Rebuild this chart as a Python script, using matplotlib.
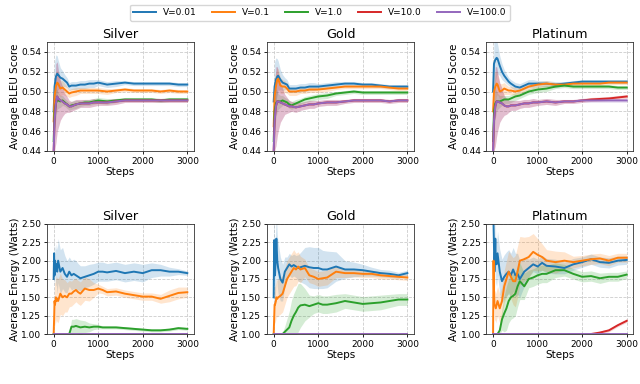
import matplotlib
matplotlib.use("Agg")
import matplotlib.pyplot as plt
import numpy as np

# ---------------- data ----------------
labels = ["V=0.01", "V=0.1", "V=1.0", "V=10.0", "V=100.0"]
colors = ["#1f77b4", "#ff7f0e", "#2ca02c", "#d62728", "#9467bd"]
tiers = ["Silver", "Gold", "Platinum"]

steps_top = [0, 20, 50, 80, 100, 150, 200, 250, 300, 350, 400, 500, 600, 700, 800,
             900, 1000, 1200, 1400, 1600, 1800, 2000, 2200, 2400, 2600, 2800, 3000]

# BLEU — Silver
bleu_silver_v001 = [0.480, 0.505, 0.515, 0.518, 0.517, 0.514, 0.513, 0.511, 0.509, 0.505, 0.506, 0.506, 0.507, 0.507,
                    0.508, 0.508, 0.509, 0.507, 0.508, 0.509, 0.508, 0.508, 0.508, 0.508, 0.508, 0.507, 0.507]
bleu_silver_v01 = [0.470, 0.495, 0.505, 0.509, 0.508, 0.503, 0.504, 0.502, 0.500, 0.498, 0.499, 0.500, 0.501, 0.501,
                   0.501, 0.501, 0.501, 0.500, 0.501, 0.502, 0.501, 0.501, 0.501, 0.500, 0.501, 0.500, 0.500]
bleu_silver_v1 = [0.450, 0.480, 0.488, 0.492, 0.491, 0.490, 0.491, 0.489, 0.487, 0.485, 0.486, 0.487, 0.488, 0.489,
                  0.489, 0.490, 0.491, 0.490, 0.491, 0.492, 0.492, 0.492, 0.492, 0.491, 0.492, 0.492, 0.492]
bleu_silver_v10 = [0.440, 0.470, 0.488, 0.495, 0.493, 0.491, 0.490, 0.488, 0.487, 0.485, 0.485, 0.487, 0.488, 0.488,
                   0.488, 0.489, 0.489, 0.489, 0.490, 0.491, 0.491, 0.491, 0.491, 0.491, 0.491, 0.491, 0.491]
bleu_silver_v100 = [0.440, 0.470, 0.488, 0.495, 0.493, 0.491, 0.490, 0.488, 0.487, 0.485, 0.485, 0.487, 0.488, 0.488,
                    0.488, 0.489, 0.489, 0.489, 0.490, 0.491, 0.491, 0.491, 0.491, 0.491, 0.491, 0.491, 0.491]

# BLEU — Gold
bleu_gold_v001 = [0.490, 0.505, 0.512, 0.515, 0.516, 0.512, 0.509, 0.508, 0.507, 0.503, 0.503, 0.503, 0.504, 0.504,
                  0.505, 0.505, 0.505, 0.506, 0.507, 0.508, 0.508, 0.507, 0.507, 0.506, 0.505, 0.505, 0.505]
bleu_gold_v01 = [0.465, 0.495, 0.505, 0.512, 0.513, 0.506, 0.505, 0.505, 0.503, 0.500, 0.500, 0.500, 0.501, 0.501,
                 0.502, 0.502, 0.502, 0.503, 0.504, 0.505, 0.505, 0.505, 0.505, 0.505, 0.504, 0.503, 0.503]
bleu_gold_v1 = [0.450, 0.480, 0.488, 0.490, 0.490, 0.490, 0.491, 0.490, 0.489, 0.487, 0.486, 0.488, 0.490, 0.492,
                0.493, 0.494, 0.495, 0.496, 0.498, 0.499, 0.500, 0.499, 0.499, 0.499, 0.499, 0.499, 0.499]
bleu_gold_v10 = [0.440, 0.470, 0.485, 0.490, 0.490, 0.489, 0.488, 0.487, 0.486, 0.485, 0.485, 0.484, 0.485, 0.486,
                 0.487, 0.487, 0.488, 0.489, 0.489, 0.490, 0.491, 0.491, 0.491, 0.491, 0.490, 0.491, 0.491]
bleu_gold_v100 = [0.440, 0.470, 0.485, 0.490, 0.490, 0.489, 0.488, 0.487, 0.486, 0.485, 0.485, 0.484, 0.485, 0.486,
                  0.487, 0.487, 0.488, 0.489, 0.489, 0.490, 0.491, 0.491, 0.491, 0.491, 0.490, 0.491, 0.491]

# BLEU — Platinum
bleu_plat_v001 = [0.500, 0.528, 0.532, 0.534, 0.533, 0.526, 0.520, 0.516, 0.513, 0.510, 0.508, 0.505, 0.504, 0.506,
                  0.508, 0.508, 0.508, 0.508, 0.507, 0.508, 0.509, 0.510, 0.510, 0.510, 0.510, 0.510, 0.510]
bleu_plat_v01 = [0.480, 0.500, 0.505, 0.508, 0.507, 0.500, 0.501, 0.503, 0.502, 0.501, 0.501, 0.500, 0.501, 0.503,
                 0.505, 0.506, 0.507, 0.508, 0.507, 0.507, 0.508, 0.508, 0.508, 0.508, 0.509, 0.509, 0.509]
bleu_plat_v1 = [0.450, 0.480, 0.488, 0.490, 0.490, 0.490, 0.491, 0.492, 0.492, 0.492, 0.493, 0.495, 0.496, 0.498,
                0.500, 0.501, 0.502, 0.503, 0.505, 0.506, 0.505, 0.505, 0.505, 0.505, 0.505, 0.504, 0.504]
bleu_plat_v10 = [0.440, 0.470, 0.485, 0.490, 0.490, 0.489, 0.488, 0.486, 0.485, 0.485, 0.486, 0.486, 0.487, 0.488,
                 0.488, 0.489, 0.489, 0.490, 0.489, 0.490, 0.490, 0.491, 0.492, 0.4925, 0.493, 0.494, 0.495]
bleu_plat_v100 = [0.440, 0.470, 0.485, 0.490, 0.490, 0.489, 0.488, 0.486, 0.485, 0.485, 0.486, 0.486, 0.487, 0.488,
                  0.488, 0.489, 0.489, 0.490, 0.489, 0.490, 0.490, 0.491, 0.491, 0.491, 0.491, 0.491, 0.491]

# BLEU band half-widths (shared across tiers)
bleu_band_v001 = [0.010, 0.025, 0.022, 0.018, 0.015, 0.010, 0.008, 0.006, 0.005, 0.004, 0.004, 0.004, 0.004, 0.004,
                  0.004, 0.004, 0.003, 0.003, 0.003, 0.002, 0.002, 0.002, 0.002, 0.002, 0.002, 0.002, 0.002]
bleu_band_v01 = [0.020, 0.020, 0.015, 0.012, 0.010, 0.008, 0.007, 0.006, 0.005, 0.004, 0.004, 0.004, 0.003, 0.003,
                 0.003, 0.003, 0.003, 0.003, 0.002, 0.002, 0.002, 0.002, 0.002, 0.002, 0.002, 0.002, 0.002]
bleu_band_v1 = [0.030, 0.020, 0.015, 0.010, 0.008, 0.006, 0.005, 0.004, 0.004, 0.004, 0.004, 0.004, 0.003, 0.003,
                0.003, 0.003, 0.003, 0.003, 0.002, 0.002, 0.002, 0.002, 0.002, 0.002, 0.002, 0.002, 0.002]
bleu_band_v10 = [0.010, 0.030, 0.040, 0.035, 0.030, 0.020, 0.015, 0.010, 0.008, 0.006, 0.005, 0.005, 0.004, 0.004,
                 0.004, 0.004, 0.003, 0.003, 0.003, 0.002, 0.002, 0.002, 0.002, 0.002, 0.002, 0.002, 0.002]
bleu_band_v100 = [0.010, 0.030, 0.040, 0.035, 0.030, 0.020, 0.015, 0.010, 0.008, 0.006, 0.005, 0.005, 0.004, 0.004,
                  0.004, 0.004, 0.003, 0.003, 0.003, 0.002, 0.002, 0.002, 0.002, 0.002, 0.002, 0.002, 0.002]

steps_bot = [0, 10, 20, 30, 50, 60, 80, 100, 150, 200, 250, 300, 350, 400, 450, 500, 550, 600, 700, 800,
             900, 1000, 1100, 1200, 1400, 1600, 1800, 2000, 2200, 2400, 2600, 2800, 3000]

# Energy — Silver
en_silver_v001 = [1.75, 2.10, 1.80, 2.00, 1.90, 1.95, 1.85, 2.00, 1.85, 1.90, 1.82, 1.78, 1.85, 1.80, 1.82, 1.80, 1.78,
                  1.76, 1.78, 1.80, 1.82, 1.85, 1.85, 1.84, 1.86, 1.83, 1.85, 1.83, 1.87, 1.87, 1.85, 1.85, 1.83]
en_silver_v01 = [1.00, 1.20, 1.45, 1.40, 1.50, 1.45, 1.48, 1.45, 1.55, 1.50, 1.52, 1.50, 1.55, 1.55, 1.58, 1.60, 1.57,
                 1.55, 1.62, 1.60, 1.60, 1.62, 1.60, 1.57, 1.58, 1.55, 1.53, 1.51, 1.51, 1.48, 1.52, 1.56, 1.57]
en_silver_v1 = [1.00, 1.00, 1.00, 1.00, 1.00, 1.00, 1.00, 1.00, 1.00, 1.00, 1.00, 1.00, 1.00, 1.10, 1.10, 1.11, 1.10,
                1.09, 1.10, 1.09, 1.10, 1.10, 1.09, 1.09, 1.09, 1.08, 1.07, 1.06, 1.05, 1.05, 1.06, 1.08, 1.07]
en_silver_v10 = [1.00] * 33
en_silver_v100 = [1.00] * 33

en_silver_band_v001 = [0.15, 0.15, 0.15, 0.20, 0.25, 0.28, 0.30, 0.30, 0.30, 0.28, 0.25, 0.22, 0.20, 0.20, 0.20, 0.20,
                       0.18, 0.17, 0.15, 0.15, 0.14, 0.13, 0.13, 0.12, 0.12, 0.12, 0.12, 0.12, 0.10, 0.08, 0.06, 0.04, 0.03]
en_silver_band_v01 = [0.00, 0.15, 0.25, 0.30, 0.30, 0.30, 0.30, 0.30, 0.28, 0.25, 0.22, 0.20, 0.18, 0.17, 0.17, 0.16,
                      0.16, 0.16, 0.16, 0.15, 0.10, 0.06, 0.05, 0.05, 0.05, 0.05, 0.05, 0.05, 0.05, 0.06, 0.08, 0.08, 0.07]
en_silver_band_v1 = [0.00, 0.00, 0.00, 0.00, 0.00, 0.00, 0.00, 0.00, 0.00, 0.00, 0.00, 0.00, 0.00, 0.10, 0.10, 0.10, 0.10,
                     0.10, 0.08, 0.06, 0.04, 0.03, 0.02, 0.02, 0.02, 0.02, 0.02, 0.02, 0.02, 0.02, 0.02, 0.02, 0.02]
en_silver_band_v10 = [0.00] * 33
en_silver_band_v100 = [0.00] * 33

# Energy — Gold
en_gold_v001 = [1.50, 2.28, 1.90, 1.80, 2.10, 2.30, 2.00, 1.90, 1.75, 1.70, 1.85, 1.90, 1.95, 1.92, 1.94, 1.92, 1.90,
                1.91, 1.93, 1.91, 1.90, 1.90, 1.88, 1.88, 1.92, 1.88, 1.88, 1.87, 1.85, 1.83, 1.82, 1.80, 1.83]
en_gold_v01 = [1.00, 1.20, 1.40, 1.40, 1.45, 1.50, 1.48, 1.50, 1.52, 1.55, 1.65, 1.75, 1.80, 1.85, 1.90, 1.88, 1.92,
               1.88, 1.90, 1.80, 1.78, 1.75, 1.76, 1.77, 1.85, 1.83, 1.83, 1.82, 1.82, 1.80, 1.79, 1.78, 1.77]
en_gold_v1 = [1.00, 1.00, 1.00, 1.00, 1.00, 1.00, 1.00, 1.00, 1.00, 1.00, 1.03, 1.06, 1.09, 1.18, 1.25, 1.30, 1.36,
              1.39, 1.40, 1.38, 1.40, 1.42, 1.40, 1.40, 1.42, 1.45, 1.43, 1.41, 1.42, 1.43, 1.45, 1.47, 1.47]
en_gold_v10 = [1.00] * 33
en_gold_v100 = [1.00] * 33

en_gold_band_v001 = [0.30, 0.40, 0.40, 0.40, 0.40, 0.35, 0.35, 0.35, 0.30, 0.25, 0.20, 0.15, 0.15, 0.15, 0.15, 0.15,
                     0.18, 0.20, 0.25, 0.28, 0.28, 0.28, 0.26, 0.25, 0.20, 0.12, 0.10, 0.08, 0.06, 0.05, 0.05, 0.04, 0.04]
en_gold_band_v01 = [0.00, 0.20, 0.25, 0.25, 0.25, 0.25, 0.25, 0.25, 0.25, 0.25, 0.25, 0.25, 0.25, 0.25, 0.25, 0.22,
                    0.20, 0.18, 0.12, 0.10, 0.10, 0.10, 0.10, 0.10, 0.08, 0.06, 0.05, 0.05, 0.05, 0.05, 0.04, 0.04, 0.04]
en_gold_band_v1 = [0.00, 0.00, 0.00, 0.00, 0.00, 0.00, 0.00, 0.00, 0.00, 0.02, 0.08, 0.15, 0.22, 0.28, 0.30, 0.32,
                   0.33, 0.30, 0.22, 0.15, 0.12, 0.12, 0.12, 0.12, 0.12, 0.10, 0.10, 0.10, 0.10, 0.10, 0.09, 0.08, 0.08]
en_gold_band_v10 = [0.00] * 33
en_gold_band_v100 = [0.00] * 33

# Energy — Platinum
en_plat_v001 = [2.60, 2.50, 2.20, 1.85, 2.30, 2.00, 1.95, 2.10, 1.85, 1.72, 1.78, 1.82, 1.85, 1.80, 1.88, 1.80, 1.82,
                1.75, 1.85, 1.90, 1.95, 1.92, 1.97, 1.93, 1.92, 1.90, 1.95, 1.98, 2.02, 1.98, 1.97, 2.00, 2.01]
en_plat_v01 = [1.00, 2.00, 1.60, 1.40, 1.38, 1.35, 1.40, 1.45, 1.35, 1.45, 1.65, 1.75, 1.85, 1.78, 1.72, 1.72, 1.85,
               2.00, 2.02, 2.05, 2.12, 2.08, 2.05, 2.00, 1.98, 2.00, 1.98, 2.00, 2.02, 2.03, 2.00, 2.04, 2.04]
en_plat_v1 = [1.00, 1.00, 1.00, 1.00, 1.00, 1.00, 1.00, 1.00, 1.05, 1.20, 1.28, 1.35, 1.45, 1.50, 1.52, 1.55, 1.65,
              1.72, 1.65, 1.75, 1.77, 1.80, 1.82, 1.82, 1.87, 1.87, 1.82, 1.78, 1.79, 1.76, 1.78, 1.78, 1.81]
en_plat_v10 = [1.00, 1.00, 1.00, 1.00, 1.00, 1.00, 1.00, 1.00, 1.00, 1.00, 1.00, 1.00, 1.00, 1.00, 1.00, 1.00, 1.00,
               1.00, 1.00, 1.00, 1.00, 1.00, 1.00, 1.00, 1.00, 1.00, 1.00, 1.00, 1.00, 1.02, 1.05, 1.12, 1.18]
en_plat_v100 = [1.00] * 33

en_plat_band_v001 = [0.30, 0.30, 0.30, 0.30, 0.30, 0.30, 0.30, 0.30, 0.30, 0.30, 0.30, 0.30, 0.30, 0.30, 0.30, 0.30,
                     0.28, 0.25, 0.20, 0.12, 0.10, 0.10, 0.10, 0.10, 0.10, 0.08, 0.08, 0.07, 0.07, 0.07, 0.07, 0.06, 0.06]
en_plat_band_v01 = [0.00, 0.20, 0.20, 0.20, 0.20, 0.20, 0.20, 0.20, 0.20, 0.20, 0.22, 0.25, 0.28, 0.30, 0.32, 0.35,
                    0.35, 0.33, 0.30, 0.28, 0.25, 0.22, 0.18, 0.15, 0.15, 0.12, 0.08, 0.07, 0.07, 0.07, 0.07, 0.06, 0.06]
en_plat_band_v1 = [0.00, 0.00, 0.00, 0.00, 0.00, 0.00, 0.00, 0.00, 0.05, 0.15, 0.25, 0.30, 0.30, 0.30, 0.30, 0.30,
                   0.28, 0.25, 0.18, 0.12, 0.12, 0.12, 0.12, 0.12, 0.10, 0.08, 0.07, 0.07, 0.07, 0.07, 0.06, 0.06, 0.05]
en_plat_band_v10 = [0.00, 0.00, 0.00, 0.00, 0.00, 0.00, 0.00, 0.00, 0.00, 0.00, 0.00, 0.00, 0.00, 0.00, 0.00, 0.00, 0.00,
                    0.00, 0.00, 0.00, 0.00, 0.00, 0.00, 0.00, 0.00, 0.00, 0.00, 0.00, 0.00, 0.02, 0.02, 0.02, 0.02]
en_plat_band_v100 = [0.00] * 33

bleu_yticks = [0.44, 0.46, 0.48, 0.50, 0.52, 0.54]
energy_yticks = [1.00, 1.25, 1.50, 1.75, 2.00, 2.25, 2.50]
xticks = [0, 1000, 2000, 3000]

# ---------------- figure ----------------
bleu_bands = [bleu_band_v001, bleu_band_v01, bleu_band_v1, bleu_band_v10, bleu_band_v100]
bleu_data = [
    [bleu_silver_v001, bleu_silver_v01, bleu_silver_v1, bleu_silver_v10, bleu_silver_v100],
    [bleu_gold_v001, bleu_gold_v01, bleu_gold_v1, bleu_gold_v10, bleu_gold_v100],
    [bleu_plat_v001, bleu_plat_v01, bleu_plat_v1, bleu_plat_v10, bleu_plat_v100],
]
en_data = [
    [en_silver_v001, en_silver_v01, en_silver_v1, en_silver_v10, en_silver_v100],
    [en_gold_v001, en_gold_v01, en_gold_v1, en_gold_v10, en_gold_v100],
    [en_plat_v001, en_plat_v01, en_plat_v1, en_plat_v10, en_plat_v100],
]
en_bands = [
    [en_silver_band_v001, en_silver_band_v01, en_silver_band_v1, en_silver_band_v10, en_silver_band_v100],
    [en_gold_band_v001, en_gold_band_v01, en_gold_band_v1, en_gold_band_v10, en_gold_band_v100],
    [en_plat_band_v001, en_plat_band_v01, en_plat_band_v1, en_plat_band_v10, en_plat_band_v100],
]

plt.rcParams['font.family'] = ['DejaVu Sans']
fig = plt.figure(figsize=(6.4, 3.84), dpi=100)

lefts = [0.0734, 0.4172, 0.7600]
w = 0.2297
top_b, top_h = 0.6068, 0.2839
bot_b, bot_h = 0.1302, 0.2865

def style(ax):
    ax.grid(True, linestyle='--', color='#cccccc', linewidth=0.6)
    ax.set_axisbelow(True)
    ax.tick_params(labelsize=6.5, length=2.5, width=0.6, pad=1.5)
    for s in ax.spines.values():
        s.set_linewidth(0.6)
        s.set_color('#333333')
    ax.set_xticks(xticks)
    ax.set_xlabel("Steps", fontsize=7.5, labelpad=1)

handles = []
for i, tier in enumerate(tiers):
    ax = fig.add_axes([lefts[i], top_b, w, top_h])
    x = np.array(steps_top)
    for k in range(5):
        y = np.array(bleu_data[i][k]); b = np.array(bleu_bands[k])
        ax.fill_between(x, y - b, y + b, color=colors[k], alpha=0.2, linewidth=0)
        h, = ax.plot(x, y, color=colors[k], lw=1.4, label=labels[k])
        if i == 0:
            handles.append(h)
    ax.set_ylim(0.44, 0.55)
    ax.set_yticks(bleu_yticks)
    ax.set_ylabel("Average BLEU Score", fontsize=7.5, labelpad=1)
    ax.set_title(tier, fontsize=9.2, pad=3)
    style(ax)

    ax2 = fig.add_axes([lefts[i], bot_b, w, bot_h])
    x = np.array(steps_bot)
    for k in range(5):
        y = np.array(en_data[i][k]); b = np.array(en_bands[i][k])
        ax2.fill_between(x, y - b, y + b, color=colors[k], alpha=0.2, linewidth=0)
        ln, = ax2.plot(x, y, color=colors[k], lw=1.4)
        if k == 4:
            ln.set_zorder(3)
    ax2.set_ylim(1.0, 2.5)
    ax2.set_yticks(energy_yticks)
    ax2.set_ylabel("Average Energy (Watts)", fontsize=7.5, labelpad=1)
    ax2.set_title(tier, fontsize=9.2, pad=3)
    style(ax2)

fig.legend(handles=handles, labels=labels, loc='upper center', bbox_to_anchor=(0.5, 1.0),
           ncol=5, fontsize=6.5, frameon=True, edgecolor='#cccccc', fancybox=True,
           handlelength=2.5, columnspacing=1.7, borderpad=0.4)

fig.savefig("out.png", dpi=100)
